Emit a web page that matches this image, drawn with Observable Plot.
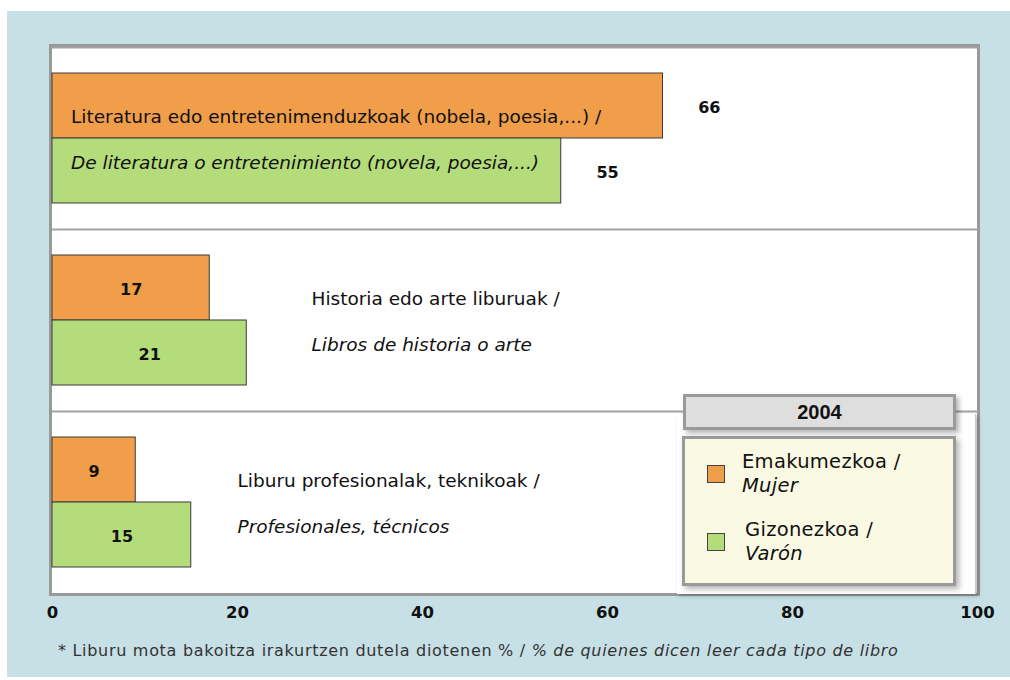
<!DOCTYPE html>
<html>
<head>
<meta charset="utf-8">
<script src="https://cdn.jsdelivr.net/npm/d3@7"></script>
<script src="https://cdn.jsdelivr.net/npm/@observablehq/plot@0.6"></script>
<style>
  html, body { margin: 0; padding: 0; }
  body { width: 1010px; height: 680px; position: relative; background: #ffffff; overflow: hidden;
         font-family: "DejaVu Sans", Verdana, sans-serif; }
  #bg { position: absolute; left: 7px; top: 11px; width: 1003px; height: 666px; background: #c6e0e5; }
  #panel { position: absolute; left: 49px; top: 44px; width: 931px; height: 552px; box-sizing: border-box;
           background: #ffffff; border: 3px solid #999999; }
  #chart { position: absolute; left: 0; top: 0; }
  #legend-back { position: absolute; left: 677px; top: 414px; width: 298px; height: 180px; background: #ffffff;
                 border-right: 1px solid #c8c8c8; box-shadow: 2px 2px 4px rgba(0,0,0,0.25); }
  #legend-title { position: absolute; left: 683px; top: 394px; width: 273px; height: 36px; box-sizing: border-box;
                  background: #dedede; border: 3px solid #9a9a9a; box-shadow: 3px 3px 5px rgba(0,0,0,0.3);
                  font: bold 20px "Liberation Sans", Arial, sans-serif; color: #111; text-align: center; line-height: 30px; }
  #legend-body { position: absolute; left: 682px; top: 436px; width: 274px; height: 150px; box-sizing: border-box;
                 background: #fafae4; border: 3px solid #9a9a9a; box-shadow: 3px 3px 6px rgba(0,0,0,0.3); }
  .sw { position: absolute; width: 18px; height: 18px; box-sizing: border-box; border: 1px solid #444; }
  .lt { position: absolute; font-size: 19.5px; line-height: 24px; color: #111; letter-spacing: 0.3px; }
  #caption { position: absolute; left: 58px; top: 641px; font-size: 16px; letter-spacing: 0.7px; color: #333; white-space: nowrap; }
</style>
</head>
<body>
<div id="bg"></div>
<div id="panel"></div>
<div id="chart"></div>
<div id="legend-back"></div>
<div id="legend-title"></div>
<div id="legend-body"></div>
<div id="caption"></div>
<script>
// ---- data ----
const groups = ["literatura", "historia", "profesional"];
const labelsEu = [
  "Literatura edo entretenimenduzkoak (nobela, poesia,...) /",
  "Historia edo arte liburuak /",
  "Liburu profesionalak, teknikoak /"
];
const labelsEs = [
  "De literatura o entretenimiento (novela, poesia,...)",
  "Libros de historia o arte",
  "Profesionales, técnicos"
];
const mujer = [66, 17, 9];   // Emakumezkoa / Mujer
const varon = [55, 21, 15];  // Gizonezkoa / Varón
const xTicks = [0, 20, 40, 60, 80, 100];
const seriesKeys = ["M", "H"];
const seriesEu = ["Emakumezkoa /", "Gizonezkoa /"];
const seriesEs = ["Mujer", "Varón"];
const seriesColors = ["#f09e4a", "#b5dc7b"];
const legendTitle = "2004";
const captionEu = "* Liburu mota bakoitza irakurtzen dutela diotenen % / ";
const captionEs = "% de quienes dicen leer cada tipo de libro";

// ---- tables built from arrays ----
const rows = [];
groups.forEach((g, i) => {
  rows.push({group: g, sex: "M", value: mujer[i]});
  rows.push({group: g, sex: "H", value: varon[i]});
});
const labelRows = groups.map((g, i) => ({group: g, eu: labelsEu[i], es: labelsEs[i], max: Math.max(mujer[i], varon[i])}));
const labelX = d => d.max > 50 ? 2 : d.max * 4 / 3;
const valueX = d => d.value > 50 ? d.value + 5 : d.value / 2;

const chart = Plot.plot({
  width: 1010,
  height: 628,
  marginLeft: 52,
  marginRight: 33,
  marginTop: 47,
  marginBottom: 35,
  style: {background: "transparent", fontFamily: "DejaVu Sans, Verdana, sans-serif", fontSize: "16.5px", fontWeight: "bold", color: "#111"},
  x: {domain: [0, 100], ticks: xTicks, tickSize: 0, tickPadding: 13, label: null, tickFormat: d => String(d)},
  y: {domain: seriesKeys, axis: null, paddingInner: 0, paddingOuter: 0.38},
  fy: {domain: groups, axis: null, padding: 0},
  color: {domain: seriesKeys, range: seriesColors},
  marks: [
    Plot.frame({anchor: "top", stroke: "#a3a3a3", strokeWidth: 2}),
    Plot.barX(rows, {x: "value", y: "sex", fy: "group", fill: "sex", stroke: "#3a3a3a", strokeWidth: 1, inset: 0}),
    Plot.text(rows, {x: valueX, y: "sex", fy: "group", text: d => String(d.value), fontSize: 16, fontWeight: "bold", fill: "#111", dy: 2}),
    Plot.text(labelRows, {x: labelX, y: () => "M", fy: "group", text: "eu", textAnchor: "start", fontSize: 18.5, fontWeight: "normal", fill: "#111", dy: 11}),
    Plot.text(labelRows, {x: labelX, y: () => "H", fy: "group", text: "es", textAnchor: "start", fontSize: 18.5, fontWeight: "normal", fontStyle: "italic", fill: "#111", dy: -8})
  ]
});
document.getElementById("chart").appendChild(chart);

// ---- legend ----
document.getElementById("legend-title").textContent = legendTitle;
const lb = document.getElementById("legend-body");
const swTop = [26, 94], txtTop = [11, 79], txtLeft = [57, 60];
seriesKeys.forEach((k, i) => {
  const sw = document.createElement("div");
  sw.className = "sw";
  sw.style.left = "22px"; sw.style.top = swTop[i] + "px";
  sw.style.background = seriesColors[i];
  lb.appendChild(sw);
  const t = document.createElement("div");
  t.className = "lt";
  t.style.left = txtLeft[i] + "px"; t.style.top = txtTop[i] + "px";
  const a = document.createElement("div"); a.textContent = seriesEu[i];
  const b = document.createElement("div"); b.textContent = seriesEs[i]; b.style.fontStyle = "italic";
  t.appendChild(a); t.appendChild(b);
  lb.appendChild(t);
});

// ---- caption ----
const cap = document.getElementById("caption");
const c1 = document.createElement("span"); c1.textContent = captionEu;
const c2 = document.createElement("span"); c2.textContent = captionEs; c2.style.fontStyle = "italic";
cap.appendChild(c1); cap.appendChild(c2);
</script>
</body>
</html>
